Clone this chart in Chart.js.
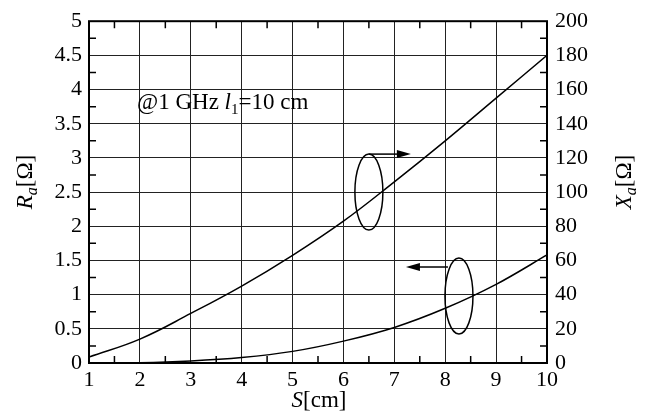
<!DOCTYPE html>
<html>
<head>
<meta charset="utf-8">
<script src="https://cdn.jsdelivr.net/npm/chart.js@4.4.0/dist/chart.umd.min.js"></script>
<style>
  html, body { margin: 0; padding: 0; background: #fff; }
  #wrap { width: 646px; height: 418px; }
</style>
</head>
<body>
<div id="wrap"><canvas id="chart" width="646" height="418"></canvas></div>
<script>
// spacing S [cm]
const sValues = [1, 2, 3, 4, 5, 6, 7, 8, 9, 10];
// radiation resistance Ra [ohm] (left axis)
const raValues = [0, 0.005, 0.03, 0.08, 0.17, 0.32, 0.52, 0.8, 1.15, 1.58];
// reactance Xa [ohm] (right axis)
const xaValues = [3.5, 14, 29, 45, 63, 83, 106, 130, 155, 180];

const FONT = '"Liberation Serif", "Times New Roman", serif';

// ellipse + arrow markers, in data coords
const markers = [
    { x: 6.5, y: 2.5, dir: 1 },   // points to right axis (Xa)
    { x: 8.27, y: 0.98, dir: -1 } // points to left axis (Ra)
];

const decorPlugin = {
    id: 'decor',
    afterDatasetsDraw(chart) {
        const ctx = chart.ctx;
        const area = chart.chartArea;
        const xs = chart.scales.x;
        const ys = chart.scales.y;
        ctx.save();

        // minor ticks, inward
        ctx.strokeStyle = '#000';
        ctx.lineWidth = 1.5;
        ctx.beginPath();
        for (let v = 1.5; v < 10; v += 1) {
            const px = xs.getPixelForValue(v);
            ctx.moveTo(px, area.bottom); ctx.lineTo(px, area.bottom - 7);
            ctx.moveTo(px, area.top); ctx.lineTo(px, area.top + 7);
        }
        for (let v = 0.25; v < 5; v += 0.5) {
            const py = ys.getPixelForValue(v);
            ctx.moveTo(area.left, py); ctx.lineTo(area.left + 7, py);
            ctx.moveTo(area.right, py); ctx.lineTo(area.right - 7, py);
        }
        ctx.stroke();

        // frame
        ctx.lineWidth = 2;
        ctx.strokeRect(area.left, area.top, area.right - area.left, area.bottom - area.top);

        // ellipses with arrows
        ctx.lineWidth = 1.5;
        markers.forEach(m => {
            const cx = xs.getPixelForValue(m.x);
            const cy = ys.getPixelForValue(m.y);
            ctx.beginPath();
            ctx.ellipse(cx, cy, 14, 38, 0, 0, Math.PI * 2);
            ctx.stroke();
            const ay = m.dir > 0 ? cy - 38 : cy - 29;
            const x0 = m.dir > 0 ? cx : cx - 11;
            const x1 = x0 + m.dir * 42;
            ctx.beginPath();
            ctx.moveTo(x0, ay);
            ctx.lineTo(x1 - m.dir * 12, ay);
            ctx.stroke();
            ctx.beginPath();
            ctx.moveTo(x1, ay);
            ctx.lineTo(x1 - m.dir * 14, ay - 4);
            ctx.lineTo(x1 - m.dir * 14, ay + 4);
            ctx.closePath();
            ctx.fillStyle = '#000';
            ctx.fill();
        });

        // annotation text
        ctx.fillStyle = '#000';
        ctx.textBaseline = 'alphabetic';
        let tx = 137, ty = 109;
        const seg = (t, f, dy) => {
            ctx.font = f;
            ctx.fillText(t, tx, ty + (dy || 0));
            tx += ctx.measureText(t).width;
        };
        seg('@1 GHz ', '23px ' + FONT);
        seg('l', 'italic 23px ' + FONT);
        seg('1', '15px ' + FONT, 5);
        seg('=10 cm', '23px ' + FONT);

        // axis titles
        const title = (parts, x, y, rot) => {
            ctx.save();
            ctx.translate(x, y);
            ctx.rotate(rot);
            let w = 0;
            parts.forEach(p => { ctx.font = p.f; w += ctx.measureText(p.t).width; });
            let px = -w / 2;
            parts.forEach(p => {
                ctx.font = p.f;
                ctx.fillText(p.t, px, p.dy || 0);
                px += ctx.measureText(p.t).width;
            });
            ctx.restore();
        };
        title([{ t: 'S', f: 'italic 23px ' + FONT }, { t: '[cm]', f: '23px ' + FONT }], 319, 407, 0);
        title([{ t: 'R', f: 'italic 23px ' + FONT }, { t: 'a', f: 'italic 16px ' + FONT, dy: 5 },
               { t: '[Ω]', f: '23px ' + FONT }], 32, 182, -Math.PI / 2);
        title([{ t: 'X', f: 'italic 23px ' + FONT }, { t: 'a', f: 'italic 16px ' + FONT, dy: 5 },
               { t: '[Ω]', f: '23px ' + FONT }], 631, 182, -Math.PI / 2);

        ctx.restore();
    }
};

const ctx = document.getElementById('chart').getContext('2d');
new Chart(ctx, {
    type: 'line',
    data: {
        datasets: [
            {
                label: 'Ra',
                data: sValues.map((s, i) => ({ x: s, y: raValues[i] })),
                yAxisID: 'y',
                borderColor: '#000',
                borderWidth: 1.5,
                pointRadius: 0,
                cubicInterpolationMode: 'monotone'
            },
            {
                label: 'Xa',
                data: sValues.map((s, i) => ({ x: s, y: xaValues[i] })),
                yAxisID: 'y2',
                borderColor: '#000',
                borderWidth: 1.5,
                pointRadius: 0,
                tension: 0.4
            }
        ]
    },
    options: {
        responsive: false,
        animation: false,
        layout: { padding: { top: 20, left: 0, right: 0, bottom: 0 } },
        plugins: { legend: { display: false }, tooltip: { enabled: false } },
        scales: {
            x: {
                type: 'linear',
                min: 1, max: 10,
                afterFit: s => { s.height = 55; },
                grid: { color: '#222', lineWidth: 1, drawTicks: false },
                border: { display: false },
                ticks: { stepSize: 1, color: '#000', padding: 4, font: { family: FONT, size: 22 } }
            },
            y: {
                position: 'left',
                min: 0, max: 5,
                afterFit: s => { s.width = 89; },
                grid: { color: '#222', lineWidth: 1, drawTicks: false },
                border: { display: false },
                ticks: {
                    stepSize: 0.5, color: '#000', padding: 7,
                    font: { family: FONT, size: 22 },
                    callback: v => String(v)
                }
            },
            y2: {
                position: 'right',
                min: 0, max: 200,
                afterFit: s => { s.width = 99; },
                grid: { display: false, drawTicks: false },
                border: { display: false },
                ticks: { stepSize: 20, color: '#000', padding: 8, font: { family: FONT, size: 22 } }
            }
        }
    },
    plugins: [decorPlugin]
});
</script>
</body>
</html>
